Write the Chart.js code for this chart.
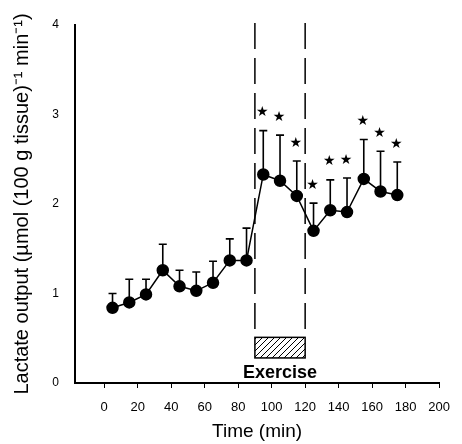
<!DOCTYPE html>
<html>
<head>
<meta charset="utf-8">
<script src="https://cdn.jsdelivr.net/npm/chart.js@4.4.1/dist/chart.umd.min.js"></script>
<style>
html, body { margin: 0; padding: 0; background: #fff; }
</style>
</head>
<body>
<canvas id="lactateChart" width="462" height="444"></canvas>
<script>
// time points (min) and lactate output, mean and SEM
const times = [5, 15, 25, 35, 45, 55, 65, 75, 85, 95, 105, 115, 125, 135, 145, 155, 165, 175];
const means = [0.84, 0.90, 0.99, 1.26, 1.08, 1.03, 1.12, 1.37, 1.37, 2.33, 2.26, 2.09, 1.70, 1.93, 1.91, 2.28, 2.14, 2.10];
const sems = [0.16, 0.26, 0.17, 0.29, 0.18, 0.21, 0.24, 0.24, 0.36, 0.49, 0.51, 0.39, 0.31, 0.34, 0.38, 0.44, 0.45, 0.37];
const signif = [false, false, false, false, false, false, false, false, false, true, true, true, true, true, true, true, true, true];

const xTicks = [0, 20, 40, 60, 80, 100, 120, 140, 160, 180, 200];
const yTicks = [0, 1, 2, 3, 4];

// exercise period
const exerciseStart = 90;
const exerciseEnd = 120;
const exerciseBarLow = 0.28;
const exerciseBarHigh = 0.51;
const exerciseLabel = "Exercise";

function hatchPattern(ctx) {
    const c = document.createElement("canvas");
    c.width = 6;
    c.height = 6;
    const p = c.getContext("2d");
    p.strokeStyle = "#000";
    p.lineWidth = 1;
    p.beginPath();
    p.moveTo(0, 6);
    p.lineTo(6, 0);
    p.moveTo(-1, 1);
    p.lineTo(1, -1);
    p.moveTo(5, 7);
    p.lineTo(7, 5);
    p.stroke();
    return ctx.createPattern(c, "repeat");
}

const exercisePlugin = {
    id: "exercise",
    beforeDatasetsDraw(chart) {
        const ctx = chart.ctx;
        const x = chart.scales.x;
        const y = chart.scales.y;
        const x1 = x.getPixelForValue(exerciseStart);
        const x2 = x.getPixelForValue(exerciseEnd);
        const yTop = y.getPixelForValue(y.max);
        const yHigh = y.getPixelForValue(exerciseBarHigh);
        const yLow = y.getPixelForValue(exerciseBarLow);

        ctx.save();
        // dashed lines
        ctx.strokeStyle = "#000";
        ctx.lineWidth = 1.5;
        ctx.setLineDash([26, 9]);
        ctx.beginPath();
        ctx.moveTo(x1, yTop - 2);
        ctx.lineTo(x1, yHigh);
        ctx.moveTo(x2, yTop - 2);
        ctx.lineTo(x2, yHigh);
        ctx.stroke();
        ctx.setLineDash([]);

        // hatched bar
        ctx.fillStyle = hatchPattern(ctx);
        ctx.fillRect(x1, yHigh, x2 - x1, yLow - yHigh);
        ctx.lineWidth = 1.5;
        ctx.strokeRect(x1, yHigh, x2 - x1, yLow - yHigh);

        ctx.fillStyle = "#000";
        ctx.font = "bold 18px 'Liberation Sans', Arial, sans-serif";
        ctx.textAlign = "center";
        ctx.textBaseline = "middle";
        ctx.fillText(exerciseLabel, (x1 + x2) / 2, yLow + 15);

        // error bars
        ctx.lineWidth = 1.6;
        times.forEach((t, i) => {
            const px = x.getPixelForValue(t);
            const base = y.getPixelForValue(means[i]);
            const top = y.getPixelForValue(means[i] + sems[i]);
            ctx.beginPath();
            ctx.moveTo(px, base);
            ctx.lineTo(px, top);
            ctx.moveTo(px - 4, top);
            ctx.lineTo(px + 4, top);
            ctx.stroke();
        });
        ctx.restore();
    },
    afterDatasetsDraw(chart) {
        const ctx = chart.ctx;
        const x = chart.scales.x;
        const y = chart.scales.y;
        ctx.save();
        ctx.fillStyle = "#000";
        ctx.font = "14px 'DejaVu Sans', sans-serif";
        ctx.textAlign = "center";
        ctx.textBaseline = "middle";
        times.forEach((t, i) => {
            if (!signif[i]) return;
            const px = x.getPixelForValue(t);
            const top = y.getPixelForValue(means[i] + sems[i]);
            ctx.fillText("\u2605", px - 1, top - 18);
        });
        ctx.restore();
    }
};

new Chart(document.getElementById("lactateChart"), {
    type: "line",
    data: {
        datasets: [{
            data: times.map((t, i) => ({ x: t, y: means[i] })),
            borderColor: "#000",
            borderWidth: 1.5,
            pointRadius: 5.5,
            pointBackgroundColor: "#000",
            pointBorderColor: "#000",
            tension: 0
        }]
    },
    options: {
        responsive: false,
        devicePixelRatio: 1,
        animation: false,
        layout: {
            padding: { top: 25, right: 12, left: 0, bottom: 0 }
        },
        plugins: {
            legend: { display: false },
            tooltip: { enabled: false }
        },
        scales: {
            x: {
                type: "linear",
                min: -17.4,
                max: 200,
                afterBuildTicks: s => { s.ticks = xTicks.map(v => ({ value: v })); },
                afterFit: s => { s.height = 61; },
                grid: {
                    drawOnChartArea: false,
                    drawTicks: true,
                    tickLength: 5,
                    color: "#000"
                },
                border: { display: true, color: "#000", width: 2 },
                ticks: {
                    padding: 12,
                    autoSkip: false,
                    maxRotation: 0,
                    color: "#000",
                    font: { size: 13, family: "'Liberation Sans', Arial, sans-serif" }
                },
                title: {
                    display: true,
                    text: "Time (min)",
                    color: "#000",
                    font: { size: 19, family: "'Liberation Sans', Arial, sans-serif" },
                    padding: { top: 0, bottom: 1 }
                }
            },
            y: {
                min: 0,
                max: 4,
                afterBuildTicks: s => { s.ticks = yTicks.map(v => ({ value: v })); },
                afterFit: s => { s.width = 75; },
                grid: { display: false, drawTicks: false },
                border: { display: true, color: "#000", width: 2 },
                ticks: {
                    padding: 16,
                    color: "#000",
                    font: { size: 12, family: "'Liberation Sans', Arial, sans-serif" }
                },
                title: {
                    display: true,
                    text: "Lactate output (\u00b5mol (100 g tissue)\u207b\u00b9 min\u207b\u00b9)",
                    color: "#000",
                    font: { size: 20, family: "'Liberation Sans', Arial, sans-serif" },
                    padding: { top: 10, bottom: 0 }
                }
            }
        }
    },
    plugins: [exercisePlugin]
});
</script>
</body>
</html>
